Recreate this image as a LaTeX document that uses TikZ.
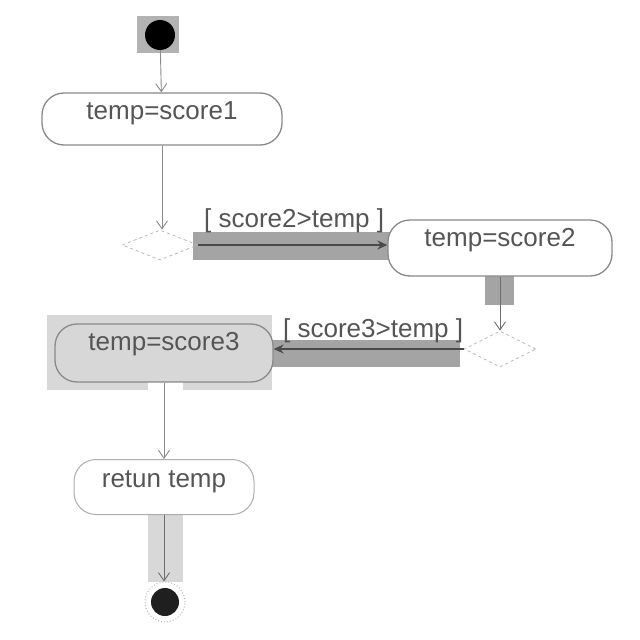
\documentclass[tikz,border=0pt]{standalone}
\usepackage{fontspec}
\setmainfont{Liberation Sans}
\usetikzlibrary{arrows.meta,shapes.geometric}
\definecolor{txt}{HTML}{555555}
\definecolor{lineg}{HTML}{8A8A8A}
\definecolor{barg}{HTML}{A4A4A4}
\definecolor{lightg}{HTML}{D8D8D8}
\definecolor{darkl}{HTML}{4A4A4A}
\begin{document}
\begin{tikzpicture}[x=1pt,y=-1pt,
  lbl/.style={font=\fontsize{26}{30}\selectfont, text=txt},
  act/.style={lbl, draw=lineg, line width=1.3pt, rounded corners=22pt, inner sep=0pt,
              text height=19pt, text depth=19pt, fill=white},
  choice/.style={diamond, draw=lineg!60, dashed, line width=0.8pt, inner sep=0pt},
  vflow/.style={draw=lineg, line width=0.9pt, -{Straight Barb[length=8pt,width=11pt]}},
  hflow/.style={draw=darkl, line width=1.6pt, -{Stealth[length=10pt,width=9pt]}},
  guard/.style={lbl, inner sep=0pt, anchor=base west}]
\useasboundingbox (0,0) rectangle (640,640);
\fill[white] (0,0) rectangle (640,640);
% background highlight areas
\fill[barg!85] (137,16) rectangle (179,53);
\fill[barg] (193,232) rectangle (390,260);
\fill[barg] (485,276) rectangle (514,305);
\fill[barg] (272,340) rectangle (460,367);
\fill[lightg] (47,315) rectangle (272,390);
\fill[white] (148,382) rectangle (183,391);
\fill[lightg] (148,515) rectangle (183,582);
% nodes
\node[circle, fill=black, minimum size=30pt, inner sep=0pt] (start) at (160,35) {};
\node[act, minimum width=240pt, minimum height=52pt] (s1) at (162,119) {temp=score1};
\node[choice, minimum width=76pt, minimum height=30pt] (d1) at (160,245) {};
\node[act, minimum width=224pt, minimum height=56pt, text height=17pt, text depth=21pt] (s2) at (500,248) {temp=score2};
\node[choice, minimum width=72pt, minimum height=36pt] (d2) at (500,349) {};
\node[act, fill=lightg!90!black!5!lightg, minimum width=218pt, minimum height=58pt, text height=17pt, text depth=23pt] (s3) at (164,353) {temp=score3};
\node[act, draw=lineg!70, line width=1pt, minimum width=180pt, minimum height=55pt] (ret) at (164,487) {retun temp};
\node[circle, fill=black!88, minimum size=28pt, inner sep=0pt] (end) at (165,602) {};
\node[circle, draw=lineg!60, dotted, line width=1pt, minimum size=40pt, inner sep=0pt] (endring) at (165,602) {};
% guards
\node[guard] (g1) at (204,227) {[ score2>temp ]};
\node[guard] (g2) at (283,337) {[ score3>temp ]};
% connectors
\draw[vflow] (start) -- (s1);
\draw[vflow] (s1.south) -- (s1.south |- d1.north);
\draw[hflow] (d1.east) -- (d1.east -| s2.west);
\draw[vflow, draw=darkl!80] (s2.south) -- (d2.north);
\draw[hflow] (d2.west) -- (d2.west -| s3.east);
\draw[vflow] (s3.south) -- (ret.north);
\draw[vflow, draw=darkl!80] (ret.south) -- (ret.south |- endring.north);
\end{tikzpicture}
\end{document}
